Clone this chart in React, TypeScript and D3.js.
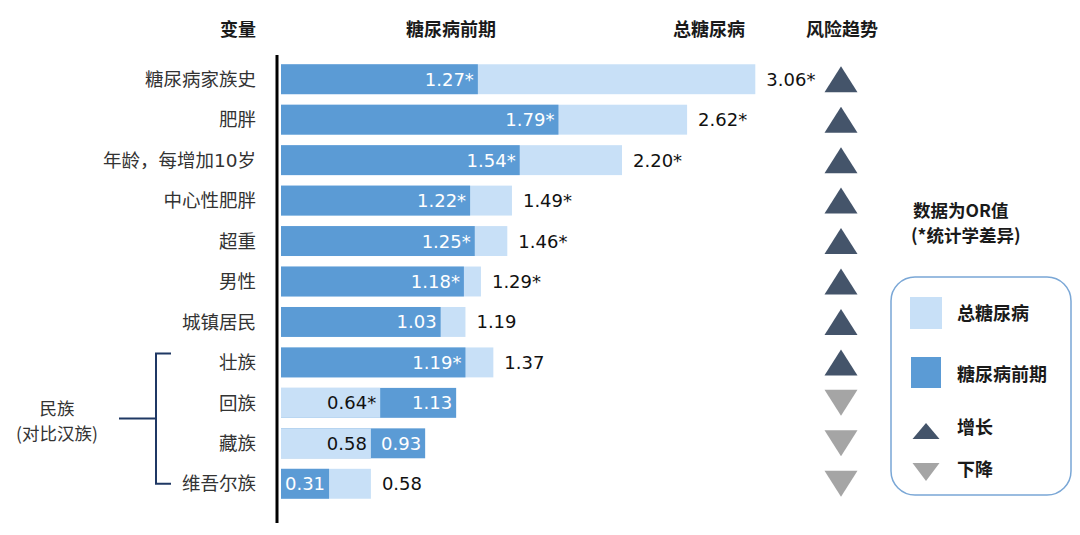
import React from 'react'
import * as d3 from 'd3'

// row labels, top to bottom
const variables = ['糖尿病家族史', '肥胖', '年龄，每增加10岁', '中心性肥胖', '超重', '男性', '城镇居民', '壮族', '回族', '藏族', '维吾尔族']
// OR values
const prediabetes = [1.27, 1.79, 1.54, 1.22, 1.25, 1.18, 1.03, 1.19, 1.13, 0.93, 0.31]
const totalDiabetes = [3.06, 2.62, 2.20, 1.49, 1.46, 1.29, 1.19, 1.37, 0.64, 0.58, 0.58]
// statistically significant markers
const preSig = [true, true, true, true, true, true, false, true, false, false, false]
const totalSig = [true, true, true, true, true, true, false, false, true, false, false]
const trends = ['up', 'up', 'up', 'up', 'up', 'up', 'up', 'up', 'down', 'down', 'down']
const ethnicRows = ['壮族', '回族', '藏族', '维吾尔族']

const DARK = '#5b9bd5'
const LIGHT = '#c8e0f7'
const UP = '#44546a'
const DOWN = '#a5a5a5'
const NAVY = '#1f3864'
const FONT = '"DejaVu Sans", "Noto Sans CJK SC", sans-serif'
const CJK = '"Noto Sans CJK SC", sans-serif'

const width = 1080
const height = 535

const fmt = (v: number, sig: boolean) => v.toFixed(2) + (sig ? '*' : '')

const triPath = (cx: number, cy: number, w: number, h: number, dir: string) =>
    dir === 'up'
        ? `M${cx - w / 2},${cy + h / 2}L${cx + w / 2},${cy + h / 2}L${cx},${cy - h / 2}Z`
        : `M${cx - w / 2},${cy - h / 2}L${cx + w / 2},${cy - h / 2}L${cx},${cy + h / 2}Z`

export default function App () {
    const x = d3.scaleLinear().domain([0, 3.2]).range([281, 281 + 496])
    const y = d3.scaleBand().domain(variables).range([59, 504]).paddingInner(0.26).paddingOuter(0.13)
    const bh = y.bandwidth()

    const rows = variables.map((v, i) => ({
        label: v,
        pre: prediabetes[i],
        tot: totalDiabetes[i],
        preSig: preSig[i],
        totSig: totalSig[i],
        trend: trends[i]
    }))

    const ethTop = y(ethnicRows[0])! + bh / 2 - 9
    const ethBottom = y(ethnicRows[ethnicRows.length - 1])! + bh / 2
    const ethMid = (ethTop + ethBottom) / 2

    return (
        <svg width={width} height={height} style={{ position: 'absolute', left: 0, top: 0, background: '#fff' }}>
            {/* headers */}
            <g fontFamily={CJK} fontWeight='bold' fontSize={18} fill='#1a1a1a'>
                <text x={256} y={36} textAnchor='end'>变量</text>
                <text x={451} y={36} textAnchor='middle'>糖尿病前期</text>
                <text x={709} y={36} textAnchor='middle'>总糖尿病</text>
                <text x={842} y={36} textAnchor='middle'>风险趋势</text>
            </g>

            {/* bars */}
            {rows.map((r) => {
                const top = y(r.label)!
                const cy = top + bh / 2
                const darkOnTop = r.pre <= r.tot
                const preBar = <rect key='p' x={x(0)} y={top} width={x(r.pre) - x(0)} height={bh} fill={DARK} />
                const totBar = <rect key='t' x={x(0)} y={top} width={x(r.tot) - x(0)} height={bh} fill={LIGHT} />
                return (
                    <g key={r.label}>
                        {darkOnTop ? [totBar, preBar] : [preBar, totBar]}
                        <text x={x(r.pre) - 4} y={cy} dy='0.36em' textAnchor='end' fill='#fff'
                            fontFamily={FONT} fontSize={18}>{fmt(r.pre, r.preSig)}</text>
                        {darkOnTop
                            ? <text x={x(r.tot) + 11} y={cy} dy='0.36em' textAnchor='start' fill='#111'
                                fontFamily={FONT} fontSize={18}>{fmt(r.tot, r.totSig)}</text>
                            : <text x={x(r.tot) - 4} y={cy} dy='0.36em' textAnchor='end' fill='#111'
                                fontFamily={FONT} fontSize={18}>{fmt(r.tot, r.totSig)}</text>}
                        <text x={256} y={cy} dy='0.36em' textAnchor='end' fill='#333'
                            fontFamily={FONT} fontSize={18.5}>{r.label}</text>
                        <path d={triPath(841, cy, 33, 26, r.trend)} fill={r.trend === 'up' ? UP : DOWN} />
                    </g>
                )
            })}

            {/* vertical axis */}
            <line x1={277} x2={277} y1={55} y2={523} stroke='#000' strokeWidth={3} />

            {/* ethnic bracket */}
            <g stroke={NAVY} strokeWidth={2} fill='none'>
                <path d={`M171,${ethTop}H156V${ethBottom}H171`} />
                <line x1={119} x2={156} y1={ethMid} y2={ethMid} />
            </g>
            <g fontFamily={CJK} fontSize={17.5} fill='#333' textAnchor='middle'>
                <text x={57} y={408.5} dy='0.36em'>民族</text>
                <text x={57} y={433.5} dy='0.36em'>(对比汉族)</text>
            </g>

            {/* note */}
            <g fontFamily={CJK} fontWeight='bold' fontSize={17.5} fill='#1a1a1a'>
                <text x={913} y={210.5} dy='0.36em'>数据为OR值</text>
                <text x={911} y={235.5} dy='0.36em'>(*统计学差异)</text>
            </g>

            {/* legend */}
            <rect x={891} y={277} width={180} height={218} rx={24} fill='none' stroke='#7aa7d6' strokeWidth={1.5} />
            <rect x={910} y={297} width={32} height={32} fill={LIGHT} />
            <rect x={911} y={357} width={30} height={31} fill={DARK} />
            <path d={triPath(926, 431, 27, 16, 'up')} fill={UP} />
            <path d={triPath(926, 472, 27, 18, 'down')} fill={DOWN} />
            <g fontFamily={CJK} fontWeight='bold' fontSize={18} fill='#1a1a1a'>
                <text x={957} y={314} dy='0.36em'>总糖尿病</text>
                <text x={957} y={375} dy='0.36em'>糖尿病前期</text>
                <text x={957} y={428} dy='0.36em'>增长</text>
                <text x={957} y={470} dy='0.36em'>下降</text>
            </g>
        </svg>
    )
}
